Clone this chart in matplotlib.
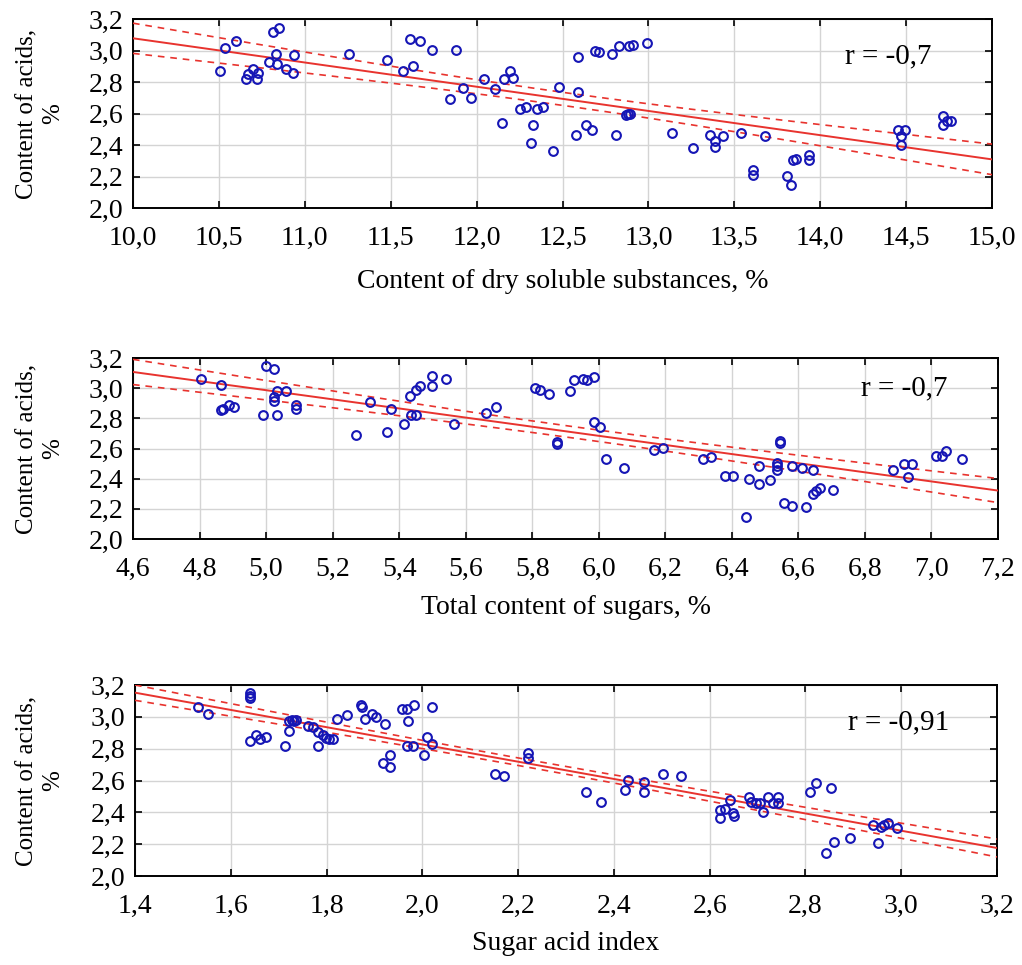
import numpy as np
import matplotlib
matplotlib.use("Agg")
import matplotlib.pyplot as plt

plt.rcParams['font.family'] = ['Liberation Serif', 'DejaVu Serif']

# ---------------- data ----------------
dry_x = [10.505, 10.534, 10.60, 10.66, 10.67, 10.70, 10.72, 10.73, 10.79, 10.815,
         10.85, 10.83, 10.84, 10.89, 10.93, 10.94, 11.26, 11.48, 11.57, 11.61,
         11.63, 11.67, 11.74, 11.845, 11.88, 11.92, 11.965, 12.045, 12.107, 12.146,
         12.16, 12.195, 12.21, 12.25, 12.285, 12.33, 12.315, 12.35, 12.385, 12.443,
         12.48, 12.59, 12.59, 12.58, 12.634, 12.673, 12.69, 12.714, 12.79, 12.81,
         12.83, 12.87, 12.88, 12.89, 12.888, 12.91, 12.99, 13.14, 13.257, 13.358,
         13.387, 13.387, 13.436, 13.539, 13.68, 13.607, 13.607, 13.805, 13.828, 13.844,
         13.86, 13.937, 13.937, 14.45, 14.494, 14.47, 14.47, 14.714, 14.714, 14.74,
         14.76]
dry_y = [2.872, 3.016, 3.058, 2.82, 2.853, 2.88, 2.82, 2.86, 2.93, 3.12,
         3.14, 2.98, 2.914, 2.88, 2.86, 2.97, 2.98, 2.94, 2.87, 3.07,
         2.90, 3.06, 3.005, 2.69, 3.005, 2.76, 2.70, 2.82, 2.755, 2.54,
         2.82, 2.872, 2.825, 2.63, 2.64, 2.53, 2.41, 2.63, 2.64, 2.36,
         2.768, 2.957, 2.736, 2.466, 2.525, 2.497, 2.999, 2.988, 2.978, 2.466,
         3.026, 2.588, 2.597, 2.60, 3.026, 3.037, 3.048, 2.476, 2.381, 2.466,
         2.423, 2.39, 2.455, 2.476, 2.455, 2.24, 2.21, 2.205, 2.144, 2.307,
         2.313, 2.334, 2.303, 2.497, 2.497, 2.455, 2.40, 2.582, 2.529, 2.555,
         2.55]

sug_x = [4.803, 4.866, 4.866, 4.87, 4.889, 4.903, 4.991, 5.001, 5.024, 5.024,
         5.024, 5.034, 5.034, 5.061, 5.091, 5.091, 5.269, 5.311, 5.362, 5.374,
         5.414, 5.434, 5.437, 5.452, 5.45, 5.462, 5.50, 5.50, 5.54, 5.564,
         5.66, 5.69, 5.807, 5.822, 5.85, 5.873, 5.873, 5.915, 5.925, 5.953,
         5.965, 5.987, 5.985, 6.003, 6.023, 6.075, 6.165, 6.192, 6.313, 6.337,
         6.38, 6.403, 6.443, 6.453, 6.483, 6.483, 6.515, 6.535, 6.535, 6.535,
         6.545, 6.545, 6.557, 6.582, 6.582, 6.612, 6.622, 6.643, 6.643, 6.653,
         6.665, 6.703, 6.883, 6.918, 6.94, 6.928, 7.013, 7.033, 7.043, 7.093]
sug_y = [3.063, 3.023, 2.853, 2.864, 2.886, 2.873, 2.824, 3.149, 3.127, 2.941,
         2.913, 2.983, 2.824, 2.979, 2.886, 2.862, 2.687, 2.908, 2.709, 2.864,
         2.762, 2.95, 2.824, 2.824, 2.99, 3.012, 3.078, 3.012, 3.063, 2.762,
         2.835, 2.875, 3.001, 2.99, 2.961, 2.641, 2.63, 2.983, 3.052, 3.061,
         3.052, 3.074, 2.773, 2.74, 2.533, 2.471, 2.592, 2.603, 2.533, 2.544,
         2.415, 2.415, 2.144, 2.398, 2.365, 2.482, 2.389, 2.504, 2.482, 2.46,
         2.647, 2.636, 2.239, 2.221, 2.482, 2.471, 2.21, 2.46, 2.30, 2.316,
         2.338, 2.323, 2.46, 2.499, 2.499, 2.411, 2.552, 2.552, 2.586, 2.533]

sai_x = [1.531, 1.552, 1.64, 1.64, 1.64, 1.64, 1.652, 1.662, 1.673, 1.713,
         1.722, 1.722, 1.732, 1.728, 1.737, 1.762, 1.772, 1.783, 1.783, 1.792,
         1.799, 1.806, 1.814, 1.821, 1.842, 1.871, 1.873, 1.881, 1.894, 1.903,
         1.922, 1.918, 1.932, 1.932, 1.958, 1.968, 1.97, 1.982, 1.968, 1.981,
         2.003, 2.009, 2.021, 2.021, 2.151, 2.17, 2.22, 2.22, 2.342, 2.374,
         2.424, 2.43, 2.463, 2.463, 2.502, 2.541, 2.621, 2.621, 2.631, 2.642,
         2.649, 2.65, 2.682, 2.687, 2.696, 2.706, 2.712, 2.721, 2.733, 2.742,
         2.742, 2.81, 2.821, 2.854, 2.842, 2.859, 2.893, 2.941, 2.952, 2.957,
         2.963, 2.972, 2.991]
sai_y = [3.06, 3.018, 3.148, 3.133, 3.116, 2.85, 2.886, 2.859, 2.871, 2.819,
         2.976, 2.913, 2.976, 2.98, 2.98, 2.944, 2.934, 2.907, 2.819, 2.886,
         2.869, 2.859, 2.859, 2.984, 3.012, 3.074, 3.06, 2.986, 3.016, 3.001,
         2.955, 2.708, 2.76, 2.683, 3.049, 3.047, 2.976, 3.074, 2.819, 2.819,
         2.76, 2.875, 2.829, 3.06, 2.641, 2.628, 2.771, 2.739, 2.526, 2.463,
         2.54, 2.603, 2.588, 2.526, 2.641, 2.63, 2.415, 2.362, 2.419, 2.477,
         2.394, 2.377, 2.494, 2.467, 2.461, 2.461, 2.404, 2.498, 2.461, 2.498,
         2.461, 2.526, 2.582, 2.551, 2.142, 2.216, 2.237, 2.32, 2.205, 2.31,
         2.32, 2.335, 2.299]

panels = [
    dict(x=dry_x, y=dry_y, xlim=(10.0, 15.0),
         xticks=[10.0, 10.5, 11.0, 11.5, 12.0, 12.5, 13.0, 13.5, 14.0, 14.5, 15.0],
         xlabel="Content of dry soluble substances, %", r="r = -0,7",
         box=(133, 19, 992, 208), rpos=(0.829, 0.80), xlab_y=281),
    dict(x=sug_x, y=sug_y, xlim=(4.6, 7.2),
         xticks=[4.6, 4.8, 5.0, 5.2, 5.4, 5.6, 5.8, 6.0, 6.2, 6.4, 6.6, 6.8, 7.0, 7.2],
         xlabel="Total content of sugars, %", r="r = -0,7",
         box=(133, 358, 998, 539), rpos=(0.842, 0.834), xlab_y=607),
    dict(x=sai_x, y=sai_y, xlim=(1.4, 3.2),
         xticks=[1.4, 1.6, 1.8, 2.0, 2.2, 2.4, 2.6, 2.8, 3.0, 3.2],
         xlabel="Sugar acid index", r="r = -0,91",
         box=(135, 685, 997, 876), rpos=(0.827, 0.806), xlab_y=944),
]
yticks = [2.0, 2.2, 2.4, 2.6, 2.8, 3.0, 3.2]
ylabel = "Content of acids,\n%"

W, H = 1022, 965
fig = plt.figure(figsize=(W / 100, H / 100), dpi=100)

def fmt(v):
    return f"{v:.1f}".replace(".", ",")

RED = "#e8332e"
BLUE = "#1515b5"

for p in panels:
    l, t, r_, b = p["box"]
    ax = fig.add_axes([l / W, 1 - b / H, (r_ - l) / W, (b - t) / H])
    x = np.asarray(p["x"]); y = np.asarray(p["y"])
    # linear regression + 95% confidence band
    k, c = np.polyfit(x, y, 1)
    n = len(x)
    resid = y - (k * x + c)
    s = np.sqrt(np.sum(resid ** 2) / (n - 2))
    xm = x.mean(); sxx = np.sum((x - xm) ** 2)
    xx = np.linspace(p["xlim"][0], p["xlim"][1], 200)
    yy = k * xx + c
    se = s * np.sqrt(1 / n + (xx - xm) ** 2 / sxx)
    tval = 1.99
    ax.plot(xx, yy, color=RED, lw=1.4, zorder=3)
    ax.plot(xx, yy + tval * se, color=RED, lw=1.2, ls=(0, (4, 3.5)), zorder=3)
    ax.plot(xx, yy - tval * se, color=RED, lw=1.2, ls=(0, (4, 3.5)), zorder=3)
    ax.plot(x, y, "o", ms=6.3, mfc="none", mec=BLUE, mew=1.5, zorder=4)

    ax.set_xlim(*p["xlim"]); ax.set_ylim(2.0, 3.2)
    ax.set_xticks(p["xticks"]); ax.set_xticklabels([fmt(v) for v in p["xticks"]])
    ax.set_yticks(yticks); ax.set_yticklabels([fmt(v) for v in yticks])
    ax.grid(True, color="#d4d4d4", lw=1.0, zorder=0)
    ax.set_axisbelow(True)
    ax.tick_params(direction="in", length=5, width=1.2, top=True, right=True,
                   labelsize=20, colors="black")
    ax.tick_params(axis="y", pad=7)
    ax.tick_params(axis="x", pad=13)
    for sp in ax.spines.values():
        sp.set_linewidth(1.4)
    ax.text(p["rpos"][0], p["rpos"][1], p["r"], transform=ax.transAxes,
            fontsize=21, va="center", ha="left")
    ax.set_ylabel(ylabel, fontsize=18, linespacing=1.2)
    ax.yaxis.set_label_coords((64 - l) / (r_ - l), 0.5)
    fig.text(((l + r_) / 2) / W, 1 - p["xlab_y"] / H, p["xlabel"],
             fontsize=20, ha="center", va="center")

fig.savefig("out.png", dpi=100)
